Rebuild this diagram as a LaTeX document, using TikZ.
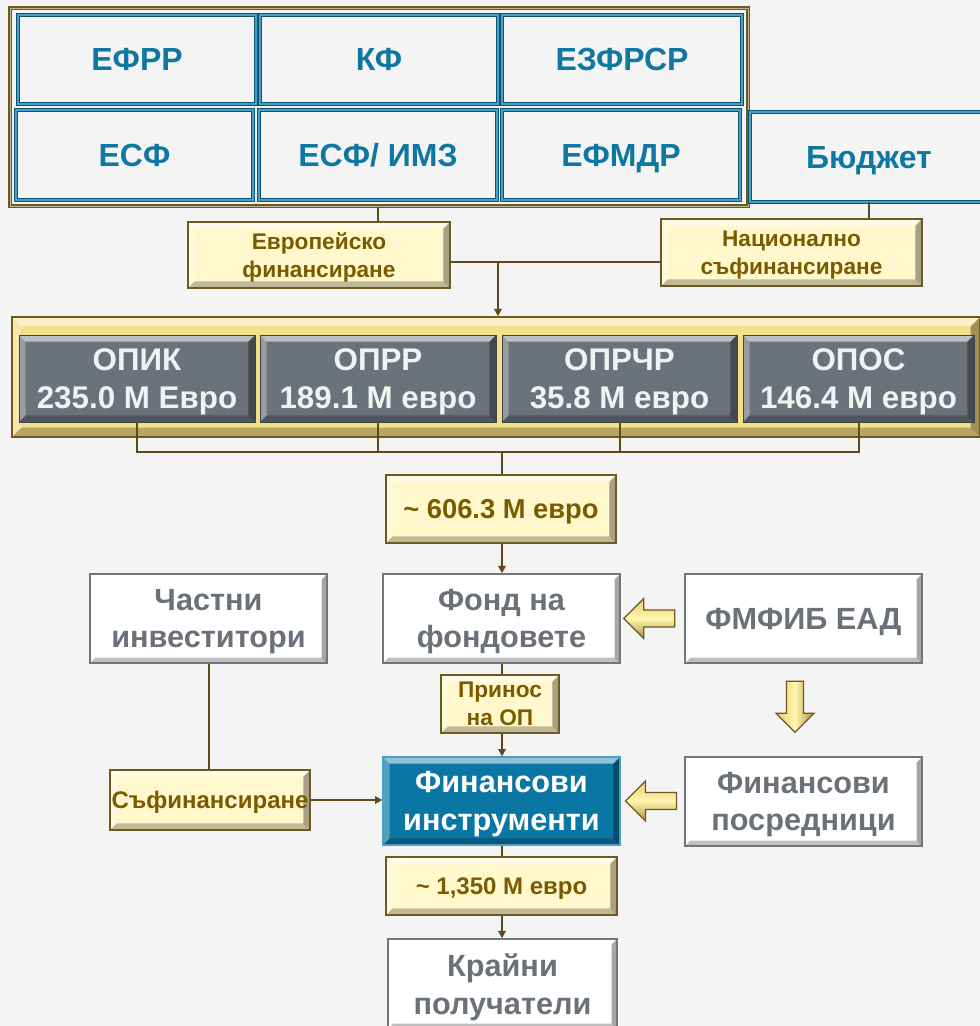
\documentclass[tikz,border=0pt]{standalone}
\usepackage{fontspec}
\setmainfont{Liberation Sans}
\usetikzlibrary{arrows.meta,calc}
\definecolor{bg}{HTML}{F4F4F4}
\definecolor{brn}{HTML}{6E5A1E}
\definecolor{lnc}{HTML}{5C4A1A}
\definecolor{brtxt}{HTML}{7A5B00}
\definecolor{bltxt}{HTML}{0E78A3}
\definecolor{bldark}{HTML}{0B5573}
\definecolor{bllight}{HTML}{4A9FC8}
\definecolor{grtxt}{HTML}{6B7179}
\definecolor{grayfill}{HTML}{6B727A}
\definecolor{cream}{HTML}{FFF8CC}
\definecolor{gold}{HTML}{F4DE86}
\definecolor{bluefill}{HTML}{0A76A3}
\definecolor{whiteedge}{HTML}{70767D}
\definecolor{arrtop}{HTML}{E6CC72}
\definecolor{arrmid}{HTML}{FFF6B0}
\definecolor{arrbot}{HTML}{B0923A}
\tikzset{
  wh/.style 2 args={minimum width=#1*0.75pt, minimum height=#2*0.75pt, inner sep=0pt, align=center, text depth=0pt},
  bevel/.style={path picture={
    \coordinate (@a) at (path picture bounding box.north west);
    \coordinate (@b) at (path picture bounding box.north east);
    \coordinate (@c) at (path picture bounding box.south east);
    \coordinate (@d) at (path picture bounding box.south west);
    \fill[white,opacity=0.55] (@a) -- (@b) -- ($(@b)+(-#1,-#1)$) -- ($(@a)+(#1,-#1)$) -- cycle;
    \fill[white,opacity=0.3] (@a) -- ($(@a)+(#1,-#1)$) -- ($(@d)+(#1,#1)$) -- (@d) -- cycle;
    \fill[black,opacity=0.35] (@b) -- (@c) -- ($(@c)+(-#1,#1)$) -- ($(@b)+(-#1,-#1)$) -- cycle;
    \fill[black,opacity=0.25] (@d) -- (@c) -- ($(@c)+(-#1,#1)$) -- ($(@d)+(#1,#1)$) -- cycle;
  }},
  frame/.style={draw=brn, line width=1.1pt, double=brn!45!white, double distance=0.6pt},
  fund/.style={draw=bldark, line width=0.6pt, double=bllight, double distance=1.5pt,
    text=bltxt, font=\bfseries\fontsize{24}{28}\selectfont},
  lbl/.style={draw=brn, line width=1.1pt, fill=cream, bevel=5pt, text=brtxt,
    font=\bfseries\fontsize{17}{21}\selectfont},
  opframe/.style={draw=brn, line width=1.1pt, fill=gold, bevel=7pt},
  op/.style={fill=grayfill, draw=grayfill!60!black, line width=0.5pt, bevel=5pt, text=white!95!black,
    font=\bfseries\fontsize{23.5}{28.5}\selectfont},
  wbox/.style={draw=whiteedge, line width=1.1pt, fill=white, bevel=4pt, text=grtxt,
    font=\bfseries\fontsize{23}{28}\selectfont},
  bbox/.style={draw=bllight, line width=0.8pt, fill=bluefill, bevel=5pt, text=white,
    font=\bfseries\fontsize{23}{28.5}\selectfont},
  conn/.style={draw=lnc, line width=1.5pt},
  arr/.style={conn, -{Triangle[length=5.5pt,width=5.5pt]}},
  barrow/.style={draw=brn, line width=1pt, top color=arrtop, bottom color=arrbot, middle color=arrmid},
  barrowv/.style={draw=brn, line width=1pt, left color=arrtop, right color=arrbot, middle color=arrmid},
  larrow/.pic={\path[barrow] (0,0) -- (20,-20) -- (20,-8.5) -- (51,-8.5) -- (51,8.5) -- (20,8.5) -- (20,20) -- cycle;},
  darrow/.pic={\path[barrowv] (0,0) -- (-19,-19) -- (-8.5,-19) -- (-8.5,-51) -- (8.5,-51) -- (8.5,-19) -- (19,-19) -- cycle;}
}
\begin{document}
\begin{tikzpicture}[x=0.75pt,y=-0.75pt]
\useasboundingbox (0,0) rectangle (980,1026);
\clip (0,0) rectangle (980,1026);
\fill[bg] (0,0) rectangle (980,1026);

% EU funds block
\node[frame, wh={738}{198}] (eu) at (379,107) {};
\node[fund, wh={238}{89}] (efrr) at (137,59.5) {ЕФРР};
\node[fund, wh={238}{89}] (kf) at (379,59.5) {КФ};
\node[fund, wh={240}{89}] (ezfrsr) at (622,59.5) {ЕЗФРСР};
\node[fund, wh={237}{90}] (esf) at (134.5,155) {ЕСФ};
\node[fund, wh={238}{90}] (esfimz) at (378,155) {ЕСФ/ ИМЗ};
\node[fund, wh={238}{90}] (efmdr) at (621,155) {ЕФМДР};
\node[fund, wh={238}{90}] (budget) at (869,157) {Бюджет};

% funding labels
\node[lbl, wh={262}{66}] (efin) at (319,255) {Европейско\\финансиране};
\node[lbl, wh={261}{67}] (nat) at (791.5,252.5) {Национално\\съфинансиране};
\coordinate (j1) at (498,262);

% operational programmes
\node[opframe, wh={968}{120}] (opf) at (496,377) {};
\node[op, wh={236}{87}] (opik) at (137,378.5) {ОПИК\\235.0 М Евро};
\node[op, wh={236}{87}] (oprr) at (378,378.5) {ОПРР\\189.1 М евро};
\node[op, wh={235}{87}] (oprchr) at (619.5,378.5) {ОПРЧР\\35.8 М евро};
\node[op, wh={231}{87}] (opos) at (858.5,378.5) {ОПОС\\146.4 М евро};
\coordinate (bus) at (502,452);

\node[lbl, wh={230}{68}, font=\bfseries\fontsize{20.5}{24}\selectfont] (sum1) at (501,509) {\textasciitilde{} 606.3 М евро};

\node[wbox, wh={237}{89}] (chastni) at (208.5,618.5) {Частни\\инвеститори};
\node[wbox, wh={237}{89}] (fond) at (501.5,618.5) {Фонд на\\фондовете};
\node[wbox, wh={237}{89}] (fmfib) at (803.5,618.5) {ФМФИБ ЕАД};
\node[lbl, wh={118}{58}] (prinos) at (500,704) {Принос\\на ОП};
\node[lbl, wh={200}{60}, font=\bfseries\fontsize{18}{21}\selectfont] (safin) at (210,800) {Съфинансиране};
\node[bbox, wh={237}{88}] (finins) at (501.5,801) {Финансови\\инструменти};
\node[wbox, wh={237}{89}] (finpos) at (803.5,801.5) {Финансови\\посредници};
\node[lbl, wh={231}{58}, font=\bfseries\fontsize{18}{21}\selectfont] (sum2) at (501.5,886) {\textasciitilde{} 1,350 М евро};
\node[wbox, wh={229}{90}] (kraini) at (502.5,984) {Крайни\\получатели};

% connectors
\draw[conn] (eu.south -| esfimz) -- (efin.north -| esfimz);
\draw[conn] (budget.south) -- (budget.south |- nat.north);
\draw[conn] (efin.east |- j1) -- (j1);
\draw[conn] (nat.west |- j1) -- (j1);
\draw[arr] (j1) -- (j1 |- opf.north);
\draw[conn] (opik.south) -- (opik.south |- bus) -- (opos.south |- bus) -- (opos.south);
\draw[conn] (oprr.south) -- (oprr.south |- bus);
\draw[conn] (oprchr.south) -- (oprchr.south |- bus);
\draw[conn] (bus) -- (bus |- sum1.north);
\draw[arr] (sum1.south -| bus) -- (fond.north -| bus);
\draw[conn] (fond.south -| bus) -- (prinos.north -| bus);
\draw[arr] (prinos.south -| bus) -- (finins.north -| bus);
\draw[conn] (chastni.south) -- (chastni.south |- safin.north);
\draw[arr] (safin.east) -- (safin.east -| finins.west);
\draw[conn] (finins.south -| bus) -- (sum2.north -| bus);
\draw[arr] (sum2.south -| bus) -- (kraini.north -| bus);

% block arrows
\pic at ($(fond.east)+(3,0)$) {larrow};
\pic at ($(finins.east)+(5,0)$) {larrow};
\pic at ($(finpos.north)+(-8.5,-24)$) {darrow};
\end{tikzpicture}
\end{document}
